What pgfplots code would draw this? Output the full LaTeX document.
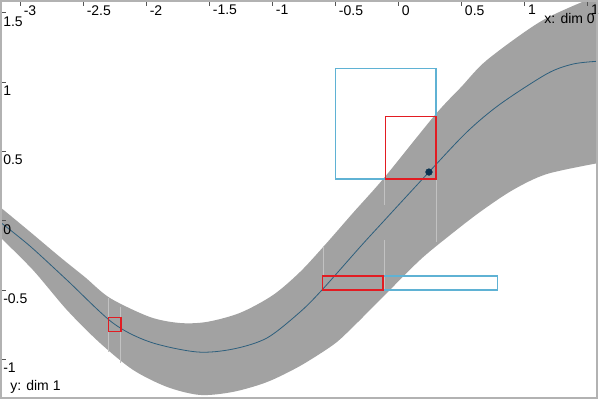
\documentclass[border=0pt]{standalone}
\usepackage{fontspec}
\setmainfont{Liberation Sans}
\usepackage{pgfplots}
\pgfplotsset{compat=1.18}
\usepgfplotslibrary{fillbetween}

\definecolor{band}{RGB}{162,162,162}
\definecolor{meanc}{RGB}{45,95,125}
\definecolor{dotc}{RGB}{10,50,80}
\definecolor{boxblue}{RGB}{95,178,212}
\definecolor{boxred}{RGB}{226,28,34}
\definecolor{faint}{RGB}{194,194,194}
\definecolor{framec}{RGB}{178,178,178}
\definecolor{tickc}{RGB}{85,85,85}

\begin{document}
\begin{tikzpicture}
\begin{axis}[
  scale only axis, width=447pt, height=297.75pt,
  xmin=-3.151, xmax=1.577, ymin=-1.279, ymax=1.585,
  axis on top,
  axis line style={draw=framec, line width=1pt},
  xtick={-3,-2.5,-2,-1.5,-1,-0.5,0,0.5,1,1.5},
  xticklabels={-3,-2.5,-2,-1.5,-1,-0.5,0,0.5,1,1.5},
  ytick={-1,-0.5,0,0.5,1,1.5},
  yticklabels={-1,-0.5,0,0.5,1,1.5},
  xtick pos=right, xticklabel pos=right,
  ytick pos=left, yticklabel pos=left,
  tick align=inside,
  major tick length=3.5pt,
  tick style={draw=tickc, line width=0.75pt},
  tick label style={font=\fontsize{10.5}{12}\selectfont, inner sep=0pt},
  xticklabel style={anchor=north west, xshift=2.6pt, yshift=-3pt},
  yticklabel style={anchor=north west, xshift=1.5pt, yshift=-2.5pt},
  xlabel={x: dim 0},
  ylabel={y: dim 1},
  every axis x label/.style={at={(axis description cs:1,1)}, anchor=north east,
    inner sep=0pt, xshift=-1.5pt, yshift=-9pt, font=\fontsize{10.5}{12}\selectfont},
  every axis y label/.style={at={(axis description cs:0,0)}, anchor=base west,
    inner sep=0pt, xshift=6.75pt, yshift=6pt, font=\fontsize{10.5}{12}\selectfont},
]
% uncertainty band
\addplot[draw=none, smooth, name path=up] coordinates {
  (-3.159,0.099) (-2.921,-0.080) (-2.683,-0.262) (-2.485,-0.407) (-2.286,-0.558)
  (-1.969,-0.695) (-1.731,-0.738) (-1.517,-0.730) (-1.255,-0.665) (-0.994,-0.537)
  (-0.779,-0.370) (-0.581,-0.175) (-0.359,0.056) (-0.113,0.308) (0.292,0.763)
  (0.499,0.964) (0.704,1.159) (1.124,1.434) (1.497,1.592) (1.600,1.620)};
\addplot[draw=none, smooth, name path=lo] coordinates {
  (-3.159,-0.118) (-2.897,-0.356) (-2.628,-0.644) (-2.366,-0.882) (-2.104,-1.076)
  (-1.834,-1.199) (-1.573,-1.257) (-1.311,-1.235) (-1.041,-1.164) (-0.779,-1.048)
  (-0.518,-0.897) (-0.383,-0.788) (-0.145,-0.572) (0.172,-0.284) (0.411,-0.104)
  (0.649,0.063) (0.910,0.222) (1.180,0.337) (1.600,0.418)};
\addplot[band, draw=none] fill between[of=up and lo];

% faint guide lines
\addplot[faint, line width=0.6pt] coordinates {(-2.3,-0.56) (-2.3,-0.95)};
\addplot[faint, line width=0.6pt] coordinates {(-2.2,-0.62) (-2.2,-1.03)};
\addplot[faint, line width=0.6pt] coordinates {(-0.59,-0.18) (-0.59,-0.40)};
\addplot[faint, line width=0.6pt] coordinates {(-0.11,0.31) (-0.11,0.11)};
\addplot[faint, line width=0.6pt] coordinates {(-0.11,-0.14) (-0.11,-0.50)};
\addplot[faint, line width=0.6pt] coordinates {(0.3,0.30) (0.3,-0.15)};

% mean
\addplot[meanc, line width=0.6pt, smooth] coordinates {
  (-3.159,-0.009) (-2.921,-0.183) (-2.628,-0.428) (-2.263,-0.738) (-1.969,-0.875)
  (-1.596,-0.947) (-1.311,-0.926) (-1.041,-0.846) (-0.779,-0.659) (-0.605,-0.500)
  (-0.303,-0.190) (-0.121,-0.009) (0.244,0.351) (0.545,0.640) (0.807,0.840)
  (1.180,1.060) (1.386,1.130) (1.577,1.150)};

% boxes
\addplot[boxblue, line width=1pt] coordinates {(-0.5,0.3) (0.3,0.3) (0.3,1.1) (-0.5,1.1)} -- cycle;
\addplot[boxblue, line width=1pt] coordinates {(-0.12,-0.5) (0.79,-0.5) (0.79,-0.4) (-0.12,-0.4)} -- cycle;
\addplot[boxred, line width=1pt] coordinates {(-0.1,0.3) (0.3,0.3) (0.3,0.75) (-0.1,0.75)} -- cycle;
\addplot[boxred, line width=1pt] coordinates {(-0.6,-0.5) (-0.12,-0.5) (-0.12,-0.4) (-0.6,-0.4)} -- cycle;
\addplot[boxred, line width=1pt] coordinates {(-2.3,-0.8) (-2.2,-0.8) (-2.2,-0.7) (-2.3,-0.7)} -- cycle;

% query point
\addplot[only marks, mark=*, mark size=2.5pt, dotc] coordinates {(0.244,0.351)};
\end{axis}
\pgfresetboundingbox
\path[use as bounding box] ([shift={(-0.75pt,-1.5pt)}]current axis.south west)
  rectangle ([shift={(2.25pt,0.75pt)}]current axis.north east);
\end{tikzpicture}
\end{document}
